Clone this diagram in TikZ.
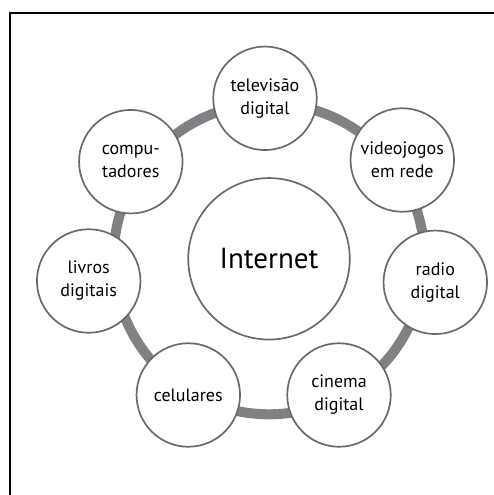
\documentclass[tikz,border=0pt]{standalone}
\usepackage{fontspec}
\setmainfont{PT Sans}
\definecolor{ringgray}{RGB}{128,129,132}
\definecolor{edgegray}{RGB}{105,106,110}
\begin{document}
\begin{tikzpicture}[x=1pt,y=-1pt,
  topic/.style={circle,draw=edgegray,line width=1.7pt,fill=white,minimum size=103.5pt,inner sep=0pt,align=center,font=\fontsize{18}{23}\selectfont},
  hub/.style={circle,draw=edgegray,line width=1.7pt,fill=white,minimum size=161.5pt,inner sep=0pt,font=\fontsize{29}{34}\selectfont},
  ring/.style={draw=ringgray,line width=10pt}]
\useasboundingbox (0,0) rectangle (494,495);
\clip (0,0) rectangle (494,495);
\draw[line width=2pt] (10,13) rectangle (540,540);
\coordinate (c) at (269,258.8);
\draw[ring] (c) circle (155.5);
\node[hub] (internet) at (c) {Internet};
\node[topic] (tv) at (265,98.3) {televisão\\digital};
\node[topic] (video) at (402.3,160) {videojogos\\em rede};
\node[topic] (radio) at (435.3,282.3) {radio\\digital};
\node[topic] (cinema) at (339,395) {cinema\\digital};
\node[topic] (cel) at (188.3,395) {celulares};
\node[topic] (livros) at (88.7,281) {livros\\digitais};
\node[topic] (comp) at (130.8,161.7) {compu-\\tadores};
\end{tikzpicture}
\end{document}
